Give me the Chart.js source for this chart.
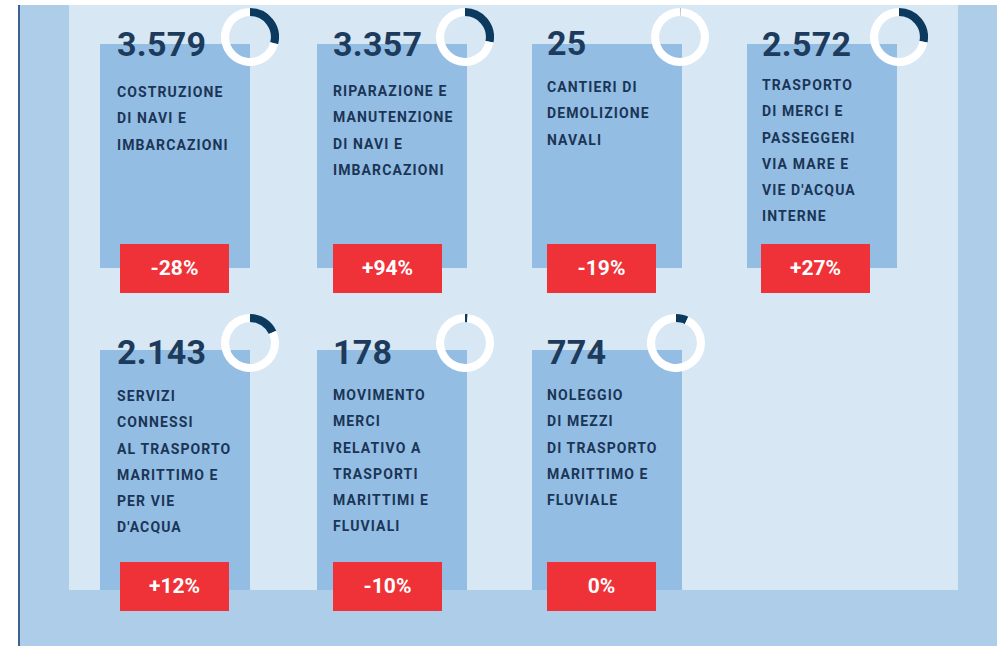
<!DOCTYPE html>
<html>
<head>
<meta charset="utf-8">
<script src="https://cdn.jsdelivr.net/npm/chart.js@4.4.1/dist/chart.umd.min.js"></script>
<style>
  html, body { margin: 0; padding: 0; background: #ffffff; }
  #stage { position: relative; width: 997px; height: 646px; overflow: hidden; background: #ffffff; font-family: Roboto, "Noto Sans", sans-serif; }
  #outer { position: absolute; left: 20px; top: 5px; width: 977px; height: 641px; background: #aecde8; }
  #leftline { position: absolute; left: 18px; top: 5px; width: 2px; height: 641px; background: #3a6393; }
  #inner { position: absolute; left: 69px; top: 5px; width: 889px; height: 585px; background: #d7e7f4; }
  .card { position: absolute; width: 150px; background: #94bde3; }
  .num { position: absolute; font-weight: 700; font-size: 34px; line-height: 34px; color: #1d3b5c; white-space: nowrap; letter-spacing: 0.3px; }
  .lbl { position: absolute; font-weight: 700; font-size: 14px; line-height: 26.3px; color: #1a3556; white-space: nowrap; letter-spacing: 1.1px; }
  .badge { position: absolute; width: 109px; height: 49px; background: #ef3238; color: #ffffff; font-weight: 700; font-size: 21px; line-height: 49px; text-align: center; }
  canvas.donut { position: absolute; }
</style>
</head>
<body>
<div id="stage">
  <div id="outer"></div>
  <div id="leftline"></div>
  <div id="inner"></div>
</div>
<script>
// ---- data ----
const valueLabels = ['3.579', '3.357', '25', '2.572', '2.143', '178', '774'];
const values = [3579, 3357, 25, 2572, 2143, 178, 774];
const categories = [
  ['COSTRUZIONE', 'DI NAVI E', 'IMBARCAZIONI'],
  ['RIPARAZIONE E', 'MANUTENZIONE', 'DI NAVI E', 'IMBARCAZIONI'],
  ['CANTIERI DI', 'DEMOLIZIONE', 'NAVALI'],
  ['TRASPORTO', 'DI MERCI E', 'PASSEGGERI', 'VIA MARE E', "VIE D'ACQUA", 'INTERNE'],
  ['SERVIZI', 'CONNESSI', 'AL TRASPORTO', 'MARITTIMO E', 'PER VIE', "D'ACQUA"],
  ['MOVIMENTO', 'MERCI', 'RELATIVO A', 'TRASPORTI', 'MARITTIMI E', 'FLUVIALI'],
  ['NOLEGGIO', 'DI MEZZI', 'DI TRASPORTO', 'MARITTIMO E', 'FLUVIALE']
];
const changes = ['-28%', '+94%', '-19%', '+27%', '+12%', '-10%', '0%'];
const donutShares = [0.29, 0.28, 0.003, 0.28, 0.18, 0.015, 0.07];

// ---- layout ----
const cardLeft = [100, 317, 532, 747, 100, 317, 532];
const cardTop = [44, 44, 44, 44, 350, 350, 350];
const cardHeight = [224, 224, 224, 224, 240, 240, 240];
const textLeft = [117, 333, 547, 762, 117, 333, 547];
const numTop = [27, 27, 26, 27, 335, 335, 335];
const lblTop = [79, 78, 74, 72, 383, 382, 382];
const badgeLeft = [120, 333, 547, 761, 120, 333, 547];
const badgeTop = [244, 244, 244, 244, 562, 562, 562];
const donutCx = [250, 465, 680, 899, 250, 465, 676];
const donutCy = [37, 37, 37, 37, 343, 343, 343];
const R = 29;

const stage = document.getElementById('stage');
function el(tag, cls, css, html) {
  const e = document.createElement(tag);
  if (cls) e.className = cls;
  Object.assign(e.style, css);
  if (html !== undefined) e.innerHTML = html;
  stage.appendChild(e);
  return e;
}

for (let i = 0; i < values.length; i++) {
  el('div', 'card', { left: cardLeft[i] + 'px', top: cardTop[i] + 'px', height: cardHeight[i] + 'px' });
  el('div', 'num', { left: textLeft[i] + 'px', top: numTop[i] + 'px' }, valueLabels[i]);
  el('div', 'lbl', { left: textLeft[i] + 'px', top: lblTop[i] + 'px' }, categories[i].join('<br>'));
  el('div', 'badge', { left: badgeLeft[i] + 'px', top: badgeTop[i] + 'px' }, changes[i]);
  const cv = el('canvas', 'donut', { left: (donutCx[i] - R) + 'px', top: (donutCy[i] - R) + 'px', width: 2 * R + 'px', height: 2 * R + 'px' });
  cv.width = 2 * R; cv.height = 2 * R;
  new Chart(cv, {
    type: 'doughnut',
    data: {
      labels: [categories[i].join(' '), ''],
      datasets: [{
        data: [donutShares[i], 1 - donutShares[i]],
        backgroundColor: ['#0c3a5e', '#ffffff'],
        borderWidth: 0,
        hoverOffset: 0
      }]
    },
    options: {
      responsive: false,
      animation: false,
      events: [],
      cutout: '72%',
      layout: { padding: 0 },
      plugins: { legend: { display: false }, tooltip: { enabled: false } }
    }
  });
}
</script>
</body>
</html>
